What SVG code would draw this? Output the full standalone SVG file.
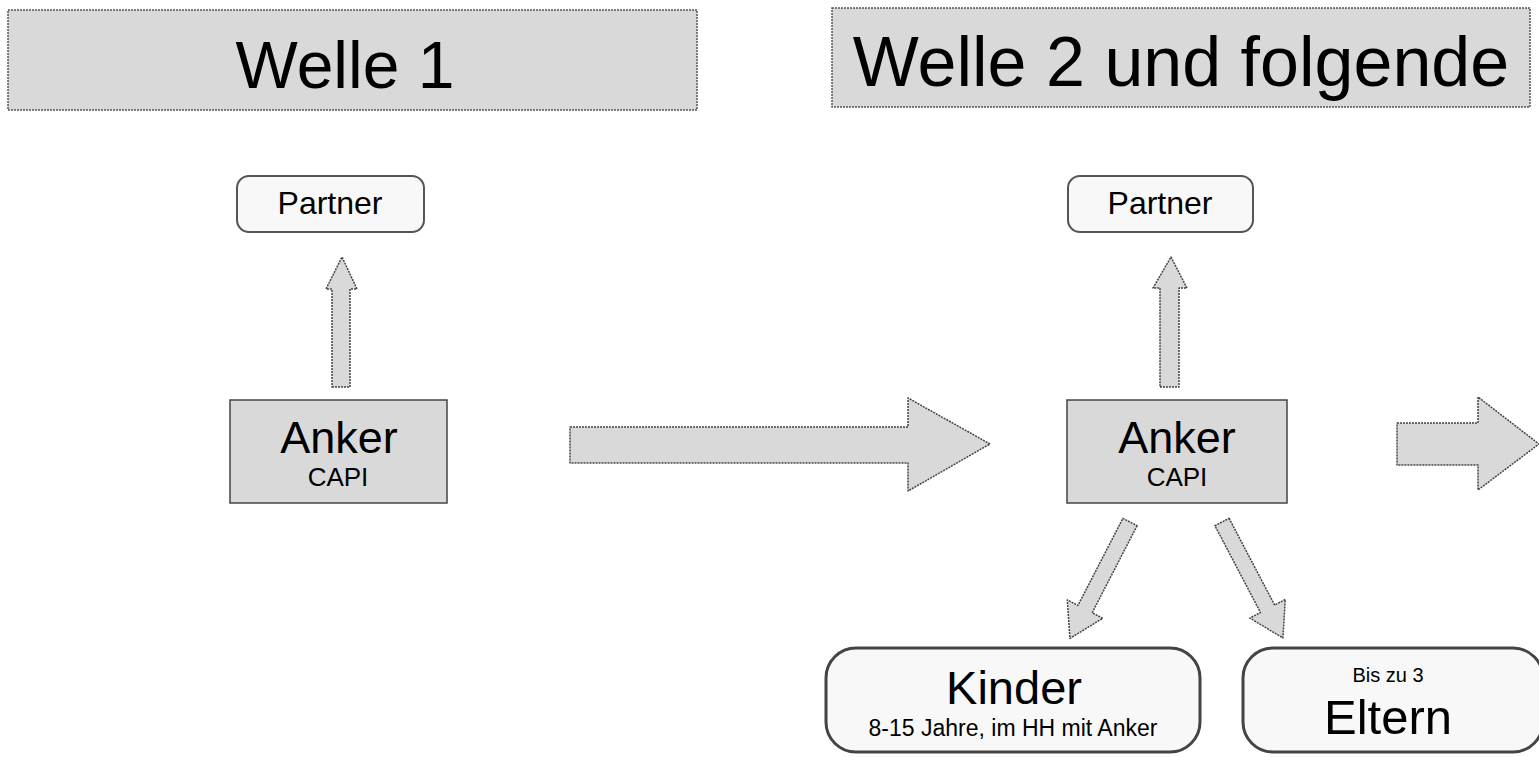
<svg xmlns="http://www.w3.org/2000/svg" width="1539" height="757" viewBox="0 0 1539 757">
<style>
.hdr{fill:#d9d9d9;stroke:#555;stroke-width:1.5;stroke-dasharray:2 1}
.pbox{fill:#f8f8f8;stroke:#555;stroke-width:2}
.abox{fill:#d9d9d9;stroke:#444;stroke-width:1.5}
.rbox{fill:#f8f8f8;stroke:#444;stroke-width:3}
.arr{fill:#d9d9d9;stroke:#444;stroke-width:1.5;stroke-dasharray:2 1;stroke-linejoin:round}
text{font-family:"Liberation Sans",Arial,sans-serif;fill:#000;text-anchor:middle}
</style>
<rect width="1539" height="757" fill="#fff"/>
<g id="header1"><rect class="hdr" x="8" y="10" width="689" height="100"/><text x="345" y="88" font-size="66">Welle 1</text></g>
<g id="header2"><rect class="hdr" x="832" y="8" width="698" height="99"/><text x="1181" y="86" font-size="70">Welle 2 und folgende</text></g>
<g id="partner1"><rect class="pbox" x="237" y="176" width="187" height="56" rx="12"/><text x="330" y="214" font-size="32">Partner</text></g>
<g id="anker1"><rect class="abox" x="230" y="400" width="217" height="103"/><text x="339" y="453" font-size="45">Anker</text><text x="338" y="486" font-size="26">CAPI</text></g>
<g id="partner2"><rect class="pbox" x="1068" y="176" width="185" height="56" rx="12"/><text x="1160" y="214" font-size="32">Partner</text></g>
<g id="anker2"><rect class="abox" x="1067" y="400" width="220" height="103"/><text x="1177" y="453" font-size="45">Anker</text><text x="1177" y="486" font-size="26">CAPI</text></g>
<g id="kinder"><rect class="rbox" x="826" y="648" width="374" height="104" rx="30"/><text x="1014" y="704" font-size="47">Kinder</text><text x="1013" y="736" font-size="23">8-15 Jahre, im HH mit Anker</text></g>
<g id="eltern"><rect class="rbox" x="1243" y="648" width="300" height="104" rx="30"/><text x="1388" y="682" font-size="20">Bis zu 3</text><text x="1388" y="734" font-size="49">Eltern</text></g>
<g id="connectors">
<polygon class="arr" points="332,387 350,387 350,289 357,289 342,257 326,289 332,289"/>
<polygon class="arr" points="1160,387 1179,387 1179,288 1187,288 1171,257 1153,288 1160,288"/>
<polygon class="arr" points="570,427 908,427 908,398 990,444 908,491 908,463 570,463"/>
<polygon class="arr" points="1397,423 1478,423 1478,397 1539,444 1478,490 1478,465 1397,465"/>
<polygon class="arr" transform="translate(1130,522) rotate(117.3)" points="0,-8 98,-8 98,-20 131,0 98,20 98,8 0,8"/>
<polygon class="arr" transform="translate(1222,522) rotate(62.3)" points="0,-8 98,-8 98,-20 131,0 98,20 98,8 0,8"/>
</g>
</svg>
